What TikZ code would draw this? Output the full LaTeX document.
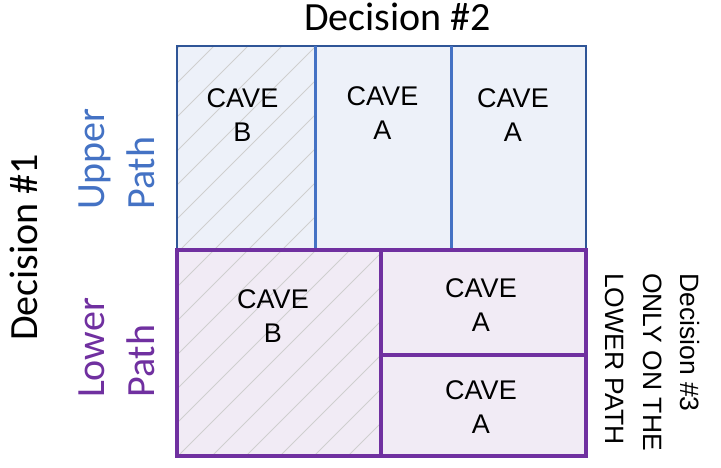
\documentclass[tikz,border=0pt]{standalone}
\usepackage{fontspec}
\setmainfont{Liberation Sans}
\newfontfamily\calfont{Carlito}
\definecolor{ublue}{HTML}{4472C4}
\definecolor{dblue}{HTML}{2F5597}
\definecolor{purp}{HTML}{7030A0}
\definecolor{ufill}{HTML}{EDF1F9}
\definecolor{lfill}{HTML}{F1EBF5}
\definecolor{hatchgray}{HTML}{CFCFCF}
\begin{document}
\begin{tikzpicture}[x=1pt,y=-1pt,
  cave/.style={font=\fontsize{27}{34}\selectfont, align=center, inner sep=0pt, anchor=north},
  bigtitle/.style={font=\calfont\fontsize{40}{50}\selectfont, inner sep=0pt},
  pathlabel/.style={font=\calfont\fontsize{40}{50}\selectfont, align=left, inner sep=0pt, rotate=90, anchor=north west},
  sidenote/.style={font=\fontsize{26.5}{37.5}\selectfont, align=left, inner sep=0pt, rotate=-90, anchor=north west},
  hatch/.style={draw=hatchgray, line width=0.8pt},
  upperedge/.style={draw=dblue, line width=2.8pt},
  upperdiv/.style={draw=ublue, line width=3pt},
  loweredge/.style={draw=purp, line width=3.2pt}]
\useasboundingbox (0,0) rectangle (721,467);
% fills
\fill[ufill] (177,46) rectangle (586,250);
\fill[lfill] (177,250) rectangle (586,456);
% hatching of the CAVE B cells
\begin{scope}
  \clip (177,46) rectangle (315,250) (177,250) rectangle (381,456);
  \foreach \c in {226,260,...,870} \draw[hatch] ({\c-40},40) -- ({\c-470},470);
\end{scope}
% borders
\draw[upperedge] (177,250) -- (177,46) -- (586,46) -- (586,250);
\draw[upperdiv] (315,46) -- (315,250);
\draw[upperdiv] (451,46) -- (451,250);
\draw[loweredge] (177,250) rectangle (586,456);
\draw[loweredge] (381,250) -- (381,456);
\draw[loweredge] (381,355) -- (586,355);
% cell texts
\node[cave] (ub) at (242.5,88) {CAVE\\B};
\node[cave] (ua1) at (382.5,86) {CAVE\\A};
\node[cave] (ua2) at (513,88) {CAVE\\A};
\node[cave] (lb) at (273,289) {CAVE\\B};
\node[cave] (la1) at (481,278) {CAVE\\A};
\node[cave] (la2) at (481,380) {CAVE\\A};
% labels
\node[bigtitle, anchor=base] (d2) at (397.5,30) {Decision \#2};
\node[bigtitle, rotate=90, anchor=base west] (d1) at (37,341) {Decision \#1};
\node[pathlabel, text=ublue] (up) at (79,210) {Upper\\Path};
\node[pathlabel, text=purp] (lp) at (79,398) {Lower\\Path};
\node[sidenote] (d3) at (700,273) {Decision \#3\\ONLY ON THE\\LOWER PATH};
\end{tikzpicture}
\end{document}
